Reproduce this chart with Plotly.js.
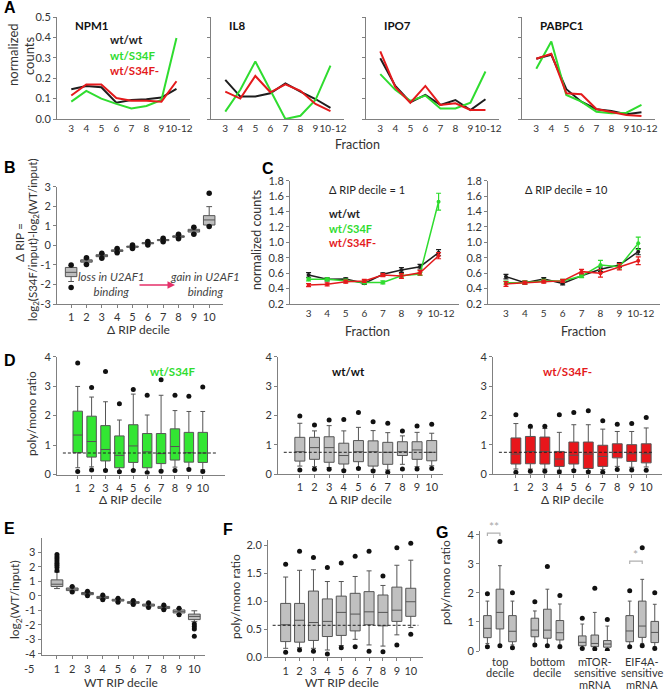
<!DOCTYPE html>
<html>
<head>
<meta charset="utf-8">
<script src="https://cdn.plot.ly/plotly-3.0.1.min.js"></script>
<style>
  html, body { margin: 0; padding: 0; background: #fff; }
  #fig { width: 666px; height: 692px; }
</style>
</head>
<body>
<div id="fig"></div>
<script>
// ---- data ----
const fractions = ["3", "4", "5", "6", "7", "8", "9", "10-12"];
const fractionLabels = ["3", "4", "5", "6", "7", "8", "9", "\u00a0\u00a010-12"];
const genes = ["NPM1", "IL8", "IPO7", "PABPC1"];
const seriesNames = ["wt/wt", "wt/S34F", "wt/S34F-"];

// panel A, normalized counts per fraction
const npm1Wt = [0.146, 0.162, 0.156, 0.080, 0.093, 0.097, 0.105, 0.148];
const npm1Mut = [0.085, 0.138, 0.100, 0.074, 0.052, 0.064, 0.093, 0.397];
const npm1MutM = [0.115, 0.169, 0.169, 0.103, 0.090, 0.090, 0.085, 0.185];
const il8Wt = [0.192, 0.110, 0.110, 0.126, 0.175, 0.134, 0.098, 0.055];
const il8Mut = [0.036, 0.143, 0.282, 0.143, 0.000, 0.016, 0.093, 0.262];
const il8MutM = [0.134, 0.100, 0.211, 0.131, 0.170, 0.138, 0.074, 0.039];
const ipo7Wt = [0.298, 0.162, 0.082, 0.118, 0.069, 0.093, 0.044, 0.097];
const ipo7Mut = [0.220, 0.143, 0.089, 0.115, 0.052, 0.052, 0.080, 0.233];
const ipo7MutM = [0.331, 0.156, 0.080, 0.162, 0.069, 0.077, 0.044, 0.044];
const pabWt = [0.295, 0.315, 0.146, 0.085, 0.048, 0.039, 0.023, 0.033];
const pabMut = [0.246, 0.380, 0.118, 0.085, 0.036, 0.028, 0.031, 0.069];
const pabMutM = [0.295, 0.320, 0.126, 0.121, 0.049, 0.036, 0.020, 0.015];

// panel B, delta RIP by decile
const deciles = [1, 2, 3, 4, 5, 6, 7, 8, 9, 10];
const bQ1 = [-1.60, -0.86, -0.58, -0.31, -0.10, 0.08, 0.24, 0.41, 0.68, 1.04];
const bMed = [-1.38, -0.80, -0.53, -0.27, -0.07, 0.11, 0.27, 0.45, 0.75, 1.30];
const bQ3 = [-1.13, -0.74, -0.48, -0.23, -0.04, 0.14, 0.30, 0.49, 0.82, 1.52];
const bLo = [-1.85, -0.95, -0.64, -0.36, -0.14, 0.04, 0.20, 0.36, 0.60, 1.00];
const bHi = [-1.04, -0.66, -0.42, -0.18, 0.00, 0.18, 0.34, 0.54, 0.90, 1.98];
const bOutHi = [-1.00, -0.64, -0.40, -0.16, 0.02, 0.20, 0.36, 0.57, 0.93, 2.67];
const bOutLo = [-2.15, -0.98, -0.66, -0.38, -0.16, 0.02, 0.18, 0.34, 0.57, 0.96];
const bTicks = [-3, -2, -1, 0, 1, 2, 3];
const bTickText = ["-3", "-2", "-1", "0", "1", "2", "3"];

// panel C, mean normalized counts (+ error)
const c1Wt = [0.576, 0.520, 0.524, 0.468, 0.585, 0.641, 0.684, 0.866];
const c1WtErr = [0.03, 0.02, 0.015, 0.015, 0.02, 0.03, 0.03, 0.04];
const c1Mut = [0.520, 0.520, 0.503, 0.480, 0.480, 0.567, 0.590, 1.527];
const c1MutErr = [0.02, 0.02, 0.02, 0.02, 0.02, 0.02, 0.02, 0.11];
const c1MutM = [0.446, 0.455, 0.490, 0.500, 0.576, 0.563, 0.606, 0.827];
const c1MutMErr = [0.02, 0.02, 0.02, 0.02, 0.02, 0.03, 0.03, 0.04];
const c2Wt = [0.555, 0.477, 0.524, 0.468, 0.567, 0.650, 0.706, 0.879];
const c2WtErr = [0.03, 0.02, 0.02, 0.02, 0.02, 0.03, 0.03, 0.04];
const c2Mut = [0.477, 0.480, 0.500, 0.500, 0.563, 0.706, 0.684, 0.987];
const c2MutErr = [0.02, 0.02, 0.02, 0.02, 0.02, 0.06, 0.03, 0.08];
const c2MutM = [0.460, 0.477, 0.490, 0.500, 0.620, 0.598, 0.684, 0.762];
const c2MutMErr = [0.03, 0.02, 0.02, 0.02, 0.03, 0.05, 0.04, 0.05];

// panel D, poly/mono ratio by delta RIP decile
const d1Q1 = [0.74, 0.59, 0.46, 0.23, 0.41, 0.23, 0.37, 0.49, 0.42, 0.41];
const d1Med = [1.34, 1.12, 0.85, 0.65, 0.97, 0.77, 0.71, 0.95, 0.74, 0.73];
const d1Q3 = [2.15, 1.98, 1.66, 1.31, 1.69, 1.39, 1.39, 1.55, 1.43, 1.43];
const d1Lo = [0.23, 0.26, 0.17, 0.11, 0.17, 0.08, 0.15, 0.25, 0.21, 0.16];
const d1Hi = [2.99, 2.63, 2.47, 1.85, 2.73, 2.02, 2.69, 2.17, 2.14, 2.14];
const d1OutHi = [3.79, 2.95, 3.50, 2.40, 2.89, 2.69, 3.22, 2.69, 2.66, 2.97];
const d1OutLo = [0.10, 0.15, 0.14, 0.09, 0.14, 0.06, 0.11, 0.14, 0.17, 0.10];

const d2Q1 = [0.44, 0.50, 0.40, 0.34, 0.42, 0.27, 0.33, 0.63, 0.50, 0.45];
const d2Med = [0.76, 0.90, 0.90, 0.63, 0.76, 0.76, 0.74, 0.76, 0.82, 0.74];
const d2Q3 = [1.25, 1.25, 1.27, 1.05, 1.14, 1.13, 1.08, 1.10, 1.10, 1.14];
const d2Lo = [0.27, 0.25, 0.22, 0.14, 0.22, 0.14, 0.14, 0.33, 0.25, 0.28];
const d2Hi = [1.73, 1.47, 1.65, 1.47, 1.59, 1.48, 1.41, 1.30, 1.42, 1.39];
const d2OutHi = [1.98, 1.67, 1.84, 1.86, 2.10, 1.78, 1.73, 1.47, 1.64, 1.70];
const d2OutLo = [0.14, 0.16, 0.16, 0.11, 0.19, 0.10, 0.06, 0.17, 0.17, 0.19];

const d3Q1 = [0.34, 0.35, 0.34, 0.26, 0.34, 0.19, 0.26, 0.55, 0.43, 0.38];
const d3Med = [0.68, 0.77, 0.77, 0.51, 0.64, 0.68, 0.60, 0.74, 0.69, 0.69];
const d3Q3 = [1.23, 1.28, 1.26, 0.77, 1.09, 1.09, 0.98, 1.03, 1.00, 1.03];
const d3Lo = [0.17, 0.17, 0.17, 0.13, 0.15, 0.11, 0.15, 0.26, 0.23, 0.24];
const d3Hi = [1.72, 1.57, 1.55, 1.42, 1.68, 1.68, 1.53, 1.45, 1.45, 1.57];
const d3OutHi = [2.02, 1.63, 1.63, 2.02, 2.10, 2.16, 1.82, 1.70, 1.72, 1.93];
const d3OutLo = [0.06, 0.09, 0.09, 0.07, 0.11, 0.07, 0.06, 0.15, 0.14, 0.13];
const dRef = [0.73, 0.74, 0.74];

// panel E, log2(WT/input) by WT RIP decile
const eQ1 = [0.64, 0.36, 0.08, -0.18, -0.36, -0.52, -0.71, -0.87, -1.18, -1.64];
const eMed = [0.80, 0.46, 0.16, -0.11, -0.30, -0.46, -0.64, -0.80, -1.07, -1.42];
const eQ3 = [1.10, 0.54, 0.23, -0.04, -0.24, -0.40, -0.57, -0.73, -0.97, -1.26];
const eLo = [0.50, 0.28, 0.02, -0.25, -0.42, -0.58, -0.78, -0.94, -1.28, -1.78];
const eHi = [1.64, 0.62, 0.30, 0.03, -0.18, -0.34, -0.50, -0.66, -0.88, -1.03];
const eOutX = [1, 1, 1, 1, 1, 1, 1, 1, 2, 2, 3, 3, 4, 4, 5, 5, 6, 6, 7, 7, 8, 8, 9, 9, 10, 10, 10, 10];
const eOutY = [1.75, 1.95, 2.10, 2.25, 2.40, 2.55, 2.70, 2.85, 0.64, 0.26, 0.32, 0.00, 0.05, -0.27, -0.16, -0.44, -0.32, -0.60, -0.48, -0.80, -0.64, -0.96, -0.86, -1.30, -1.94, -2.12, -2.28, -2.79];
const eTicks = [-4, -3, -2, -1, 0, 1, 2, 3];
const eTickText = ["-4", "-3", "-2", "-1", "0", "1", "2", "3"];

// panel F, poly/mono ratio by WT RIP decile
const fQ1 = [0.28, 0.27, 0.30, 0.37, 0.39, 0.47, 0.58, 0.56, 0.64, 0.73];
const fMed = [0.58, 0.66, 0.62, 0.64, 0.80, 0.77, 0.81, 0.80, 0.84, 0.99];
const fQ3 = [0.96, 0.96, 1.18, 1.04, 1.09, 1.14, 1.17, 1.11, 1.25, 1.23];
const fLo = [0.16, 0.17, 0.16, 0.13, 0.21, 0.32, 0.22, 0.20, 0.40, 0.53];
const fHi = [1.43, 1.55, 1.56, 1.35, 1.35, 1.44, 1.54, 1.28, 1.64, 1.73];
const fOutHi = [1.66, 1.89, 1.78, 1.60, 1.68, 1.80, 1.89, 1.45, 1.95, 2.03];
const fOutLo = [0.09, 0.13, 0.11, 0.06, 0.17, 0.19, 0.11, 0.10, 0.22, 0.41];
const fRef = 0.57;

// panel G, three boxes per mRNA group
const gCats = [["top", "decile"], ["bottom", "decile"], ["mTOR-", "sensitive", "mRNA"], ["EIF4A-", "sensitive", "mRNA"]];
const gQ1 = [[0.46, 0.49, 0.18, 0.32], [0.76, 0.44, 0.15, 0.47], [0.32, 0.38, 0.13, 0.29]];
const gMed = [[0.78, 0.72, 0.30, 0.69], [1.33, 0.72, 0.26, 0.86], [0.68, 0.63, 0.24, 0.64]];
const gQ3 = [[1.22, 1.13, 0.52, 1.22], [2.13, 1.44, 0.55, 1.72], [1.22, 1.05, 0.36, 1.02]];
const gLo = [[0.26, 0.26, 0.11, 0.18], [0.21, 0.21, 0.09, 0.26], [0.21, 0.21, 0.07, 0.15]];
const gHi = [[1.72, 1.38, 0.93, 1.72], [2.94, 2.13, 1.33, 2.47], [1.72, 1.62, 0.86, 1.61]];
const gOutHi = [[1.97, 1.70, 1.13, 2.08], [3.77, 2.91, 2.16, 3.56], [2.01, 1.91, 1.09, 2.01]];
const gOutLo = [[0.15, 0.21, 0.09, 0.15], [0.18, 0.18, 0.07, 0.18], [0.11, 0.15, 0.03, 0.09]];
const gSig = [{ group: 0, y: 4.06, text: "**" }, { group: 3, y: 3.10, text: "*" }];

// ---- styling ----
const W = 666, H = 692;
const FONT = "Lato, 'Open Sans', sans-serif";
const LETTER = "'Liberation Sans', Arial, sans-serif";
const GREEN = "#2fdc2f", RED = "#e41a1c", BLACK = "#1e1e1e";
const seriesColors = [BLACK, GREEN, RED];
const AXC = "#808080";
const BOXLINE = "#555555";
const gOffset = [-0.264, 0, 0.264];

const layout = {
  width: W, height: H,
  margin: { l: 0, r: 0, t: 0, b: 0 },
  paper_bgcolor: "#fff", plot_bgcolor: "rgba(0,0,0,0)",
  showlegend: false,
  font: { family: FONT, size: 11, color: "#333" },
  annotations: [], shapes: []
};

const baseAx = {
  showline: true, linecolor: AXC, linewidth: 1, showgrid: false, zeroline: false,
  ticks: "outside", ticklen: 3, tickcolor: AXC, tickangle: 0,
  tickfont: { family: FONT, size: 11, color: "#333" }, fixedrange: true
};

const sfx = (n) => (n === 1 ? "" : String(n));

function addAxes(n, box, xr, yr, xo, yo) {
  const [l, r, t, b] = box;
  layout["xaxis" + sfx(n)] = Object.assign({}, baseAx,
    { domain: [l / W, r / W], range: xr, anchor: "y" + sfx(n) }, xo || {});
  layout["yaxis" + sfx(n)] = Object.assign({}, baseAx,
    { domain: [1 - b / H, 1 - t / H], range: yr, anchor: "x" + sfx(n) }, yo || {});
}

const note = (text, x, y, o = {}) => Object.assign({
  text, x: x / W, y: 1 - y / H, xref: "paper", yref: "paper",
  showarrow: false, xanchor: "center", yanchor: "middle",
  font: { family: FONT, size: 12, color: "#222" }
}, o);
const txt = (size, color, family) => ({ family: family || FONT, size, color: color || "#333" });

const traces = [];

// ---- panel A ----
const aY = { tickvals: [0, 0.1, 0.2, 0.3, 0.4, 0.5], tickformat: ".1f" };
const fracX = { type: "category", ticks: "", tickvals: fractions, ticktext: fractionLabels, tickfont: txt(10) };
const aBoxes = [[57, 190, 17, 119], [211, 344, 17, 119], [366, 499, 17, 119], [522, 655, 17, 119]];
const aData = [[npm1Wt, npm1Mut, npm1MutM], [il8Wt, il8Mut, il8MutM], [ipo7Wt, ipo7Mut, ipo7MutM], [pabWt, pabMut, pabMutM]];
aBoxes.forEach((bx, i) => {
  addAxes(i + 1, bx, [-0.95, 7.9], [0, 0.5], fracX, Object.assign({ showticklabels: i === 0 }, aY));
  aData[i].forEach((ys, s) => {
    traces.push({
      type: "scatter", mode: "lines", x: fractions, y: ys,
      xaxis: "x" + sfx(i + 1), yaxis: "y" + sfx(i + 1),
      line: { color: seriesColors[s], width: 2 }, hoverinfo: "skip"
    });
  });
  layout.annotations.push(note("<b>" + genes[i] + "</b>", bx[0] + 16, 25, { xanchor: "left", font: txt(11.5, "#111") }));
});
seriesNames.forEach((nm, s) => {
  layout.annotations.push(note("<b>" + nm + "</b>", 108, 40 + 15 * s, { xanchor: "left", font: txt(11.5, seriesColors[s]) }));
});
layout.annotations.push(note("normalized", 13, 55, { textangle: -90, font: txt(13) }));
layout.annotations.push(note("counts", 29, 55, { textangle: -90, font: txt(13) }));
layout.annotations.push(note("Fraction", 357, 144, { font: txt(12.5) }));

// ---- box helpers ----
function boxTrace(n, x, q1, med, q3, lo, hi, fill, width) {
  return {
    type: "box", xaxis: "x" + sfx(n), yaxis: "y" + sfx(n), x,
    q1, median: med, q3, lowerfence: lo, upperfence: hi,
    fillcolor: fill, line: { color: BOXLINE, width: 1 }, width,
    whiskerwidth: 0.5, boxpoints: false, hoverinfo: "skip"
  };
}
function dots(n, x, y, size) {
  return {
    type: "scatter", mode: "markers", x, y, xaxis: "x" + sfx(n), yaxis: "y" + sfx(n),
    marker: { color: "#111", size: size || 5 }, hoverinfo: "skip"
  };
}
const decX = { tickvals: deciles, ticklen: 3 };

// ---- panel B ----
addAxes(5, [57, 223, 186.7, 304], [0.08, 10.9], [-3, 3], decX, { tickvals: bTicks, ticktext: bTickText });
traces.push(boxTrace(5, deciles, bQ1, bMed, bQ3, bLo, bHi, "#bdbdbd", 0.75));
traces.push(dots(5, deciles.concat(deciles), bOutHi.concat(bOutLo), 5.5));
layout.annotations.push(note("Δ RIP =", 20, 243, { textangle: -90, font: txt(12) }));
layout.annotations.push(note("log<sub>2</sub>(S34F/input)-log<sub>2</sub>(WT/input)", 33, 240, { textangle: -90, font: txt(11.5) }));
layout.annotations.push(note("Δ RIP decile", 138, 329, { font: txt(12) }));
layout.annotations.push(note("<i>loss in U2AF1</i><br><i>binding</i>", 111, 284, { font: txt(11.5, "#444") }));
layout.annotations.push(note("<i>gain in U2AF1</i><br><i>binding</i>", 205, 284, { font: txt(11.5, "#444") }));
layout.annotations.push({
  text: "", x: 175 / W, y: 1 - 285 / H, xref: "paper", yref: "paper",
  ax: -37, ay: 0, showarrow: true, arrowhead: 2, arrowsize: 1, arrowwidth: 1.5, arrowcolor: "#e5306a"
});

// ---- panel C ----
const cY = { tickvals: [0.2, 0.4, 0.6, 0.8, 1.0, 1.2, 1.4, 1.6, 1.8], tickformat: ".1f" };
addAxes(6, [290, 459, 180.7, 304], [-1, 8.1], [0.2, 1.8], fracX, cY);
addAxes(7, [488, 660, 180.7, 304], [-0.95, 8.15], [0.2, 1.8], fracX, cY);
const cData = [
  [[c1Wt, c1WtErr], [c1Mut, c1MutErr], [c1MutM, c1MutMErr]],
  [[c2Wt, c2WtErr], [c2Mut, c2MutErr], [c2MutM, c2MutMErr]]
];
cData.forEach((panel, p) => {
  panel.forEach(([ys, err], s) => {
    traces.push({
      type: "scatter", mode: "lines+markers", x: fractions, y: ys,
      xaxis: "x" + (6 + p), yaxis: "y" + (6 + p),
      line: { color: seriesColors[s], width: 1.5 },
      marker: { color: seriesColors[s], size: 4 },
      error_y: { type: "data", array: err, visible: true, color: seriesColors[s], thickness: 1.2, width: 2.5 },
      hoverinfo: "skip"
    });
  });
});
seriesNames.forEach((nm, s) => {
  layout.annotations.push(note("<b>" + nm + "</b>", 327, 213 + 15 * s, { xanchor: "left", font: txt(11, seriesColors[s]) }));
});
layout.annotations.push(note("Δ RIP decile = 1", 327, 190, { xanchor: "left", font: txt(11, "#222") }));
layout.annotations.push(note("Δ RIP decile = 10", 523, 190, { xanchor: "left", font: txt(11, "#222") }));
layout.annotations.push(note("normalized counts", 256, 240, { textangle: -90, font: txt(12.5) }));
layout.annotations.push(note("Fraction", 367, 331, { font: txt(12.5) }));
layout.annotations.push(note("Fraction", 583, 331, { font: txt(12.5) }));

// ---- panel D ----
const dY = { tickvals: [0, 1, 2, 3, 4] };
const dBoxes = [[57, 225, 356.7, 474.5], [278, 443, 356.7, 474], [493, 662, 356.7, 474]];
const dRanges = [[-0.49, 11.6], [-0.49, 10.77], [-0.58, 11.09]];
const dSets = [
  [d1Q1, d1Med, d1Q3, d1Lo, d1Hi, d1OutHi, d1OutLo, "#33e633"],
  [d2Q1, d2Med, d2Q3, d2Lo, d2Hi, d2OutHi, d2OutLo, "#c0c0c0"],
  [d3Q1, d3Med, d3Q3, d3Lo, d3Hi, d3OutHi, d3OutLo, "#e8161b"]
];
const dTitles = [["wt/S34F", GREEN, 173], ["wt/wt", "#111", 348], ["wt/S34F-", RED, 567]];
const dXTitle = [130, 360, 572];
dSets.forEach((ds, i) => {
  const n = 8 + i;
  addAxes(n, dBoxes[i], dRanges[i], [0, 4], decX, dY);
  traces.push(boxTrace(n, deciles, ds[0], ds[1], ds[2], ds[3], ds[4], ds[7], 0.68));
  traces.push(dots(n, deciles.concat(deciles), ds[5].concat(ds[6]), 5));
  layout.shapes.push({
    type: "line", xref: "x" + n + " domain", yref: "y" + n, x0: 0.035, x1: 0.95, y0: dRef[i], y1: dRef[i],
    line: { color: "#222", width: 1, dash: "3px,2px" }
  });
  layout.annotations.push(note("<b>" + dTitles[i][0] + "</b>", dTitles[i][2], 371, { font: txt(11.5, dTitles[i][1]) }));
  layout.annotations.push(note("Δ RIP decile", dXTitle[i], 499, { font: txt(12) }));
});
layout.annotations.push(note("poly/mono ratio", 31, 414, { textangle: -90, font: txt(12) }));

// ---- panel E ----
addAxes(11, [41.7, 205, 537.8, 655.3], [0, 10.7], [-4.1, 4], decX, { tickvals: eTicks, ticktext: eTickText });
traces.push(boxTrace(11, deciles, eQ1, eMed, eQ3, eLo, eHi, "#bdbdbd", 0.77));
traces.push(dots(11, eOutX, eOutY, 5));
layout.annotations.push(note("-5", 36, 668, { xanchor: "right", font: txt(11) }));
layout.annotations.push(note("log<sub>2</sub>(WT/input)", 15, 600, { textangle: -90, font: txt(12) }));
layout.annotations.push(note("WT RIP decile", 121, 682, { font: txt(12) }));

// ---- panel F ----
addAxes(12, [268, 423, 540, 657.3], [-0.27, 10.88], [0, 2.09], decX, { tickvals: [0, 0.5, 1, 1.5, 2], tickformat: ".1f" });
traces.push(boxTrace(12, deciles, fQ1, fMed, fQ3, fLo, fHi, "#c0c0c0", 0.72));
traces.push(dots(12, deciles.concat(deciles), fOutHi.concat(fOutLo), 5));
layout.shapes.push({
  type: "line", xref: "x12 domain", yref: "y12", x0: 0.03, x1: 0.97, y0: fRef, y1: fRef,
  line: { color: "#222", width: 1, dash: "3px,2px" }
});
layout.annotations.push(note("poly/mono ratio", 235, 597, { textangle: -90, font: txt(12) }));
layout.annotations.push(note("WT RIP decile", 342, 682, { font: txt(12) }));

// ---- panel G ----
const gIdx = gCats.map((c, i) => i);
addAxes(13, [480, 665, 530.6, 651], [-0.42, 3.48], [0, 4.15],
  { tickvals: gIdx, showticklabels: false, showline: false, ticks: "" }, { tickvals: [0, 1, 2, 3, 4] });
gQ1.forEach((q1, s) => {
  const xs = gIdx.map((i) => i + gOffset[s]);
  traces.push(boxTrace(13, xs, q1, gMed[s], gQ3[s], gLo[s], gHi[s], "#c0c0c0", 0.16));
  traces.push(dots(13, xs.concat(xs), gOutHi[s].concat(gOutLo[s]), 5));
});
gSig.forEach((sg) => {
  const xa = sg.group + gOffset[0], xb = sg.group + gOffset[1];
  layout.shapes.push({
    type: "path", xref: "x13", yref: "y13",
    path: `M ${xa} ${sg.y - 0.1} L ${xa} ${sg.y} L ${xb} ${sg.y} L ${xb} ${sg.y - 0.1}`,
    line: { color: "#b0b0b0", width: 1.2 }
  });
  layout.annotations.push({
    text: sg.text, x: (xa + xb) / 2, y: sg.y, xref: "x13", yref: "y13", yanchor: "bottom", yshift: -3,
    showarrow: false, font: txt(12, "#a8a8a8")
  });
});
gCats.forEach((lines, i) => {
  lines.forEach((ln, k) => {
    layout.annotations.push({
      text: ln, x: i, xref: "x13", y: 1 - (661 + 11.7 * k) / H, yref: "paper",
      showarrow: false, yanchor: "middle", font: txt(11)
    });
  });
});
layout.annotations.push(note("poly/mono ratio", 445, 583, { textangle: -90, font: txt(12) }));

// ---- panel letters ----
[["A", 2, 8], ["B", 2, 167], ["C", 260, 169], ["D", 2, 360], ["E", 2, 528], ["F", 221, 529], ["G", 434, 532]].forEach(([t, x, y]) => {
  layout.annotations.push(note("<b>" + t + "</b>", x, y, { xanchor: "left", font: txt(16, "#000", LETTER) }));
});

Plotly.newPlot("fig", traces, layout, { staticPlot: true, displayModeBar: false });
</script>
</body>
</html>
